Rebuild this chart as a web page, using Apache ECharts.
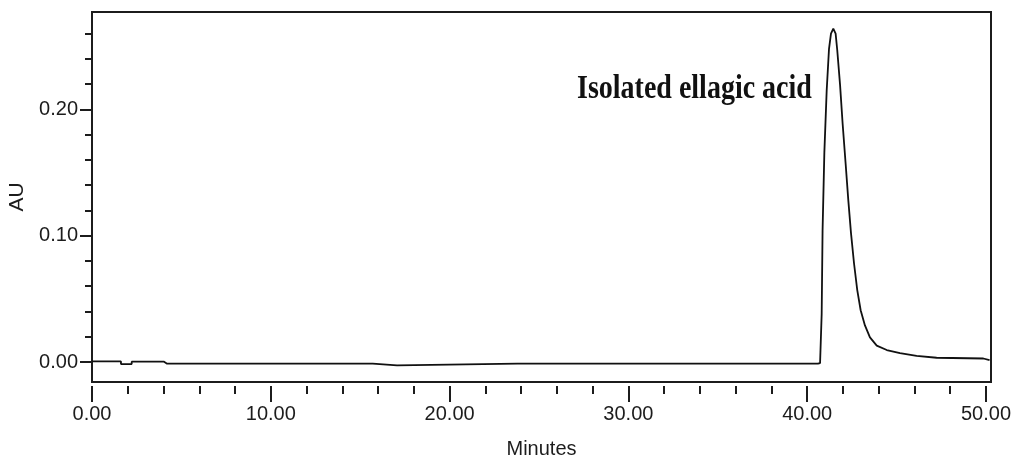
<!DOCTYPE html>
<html>
<head>
<meta charset="utf-8">
<script src="https://cdn.jsdelivr.net/npm/echarts@6/dist/echarts.min.js"></script>
<style>
html,body{margin:0;padding:0;background:#fff;}
#chart{width:1014px;height:461px;}
</style>
</head>
<body>
<div id="chart"></div>
<script>
// Retention time (minutes)
var times = [0, 1.62, 1.62, 2.22, 2.22, 4.03, 4.2, 9.2, 9.23, 9.3, 15.70, 15.70, 17.06, 17.06, 23.8, 23.83, 23.9, 40.60,
  40.72, 40.81, 40.86, 40.96, 41.09, 41.22, 41.33, 41.46, 41.59, 41.68, 41.84, 41.98, 42.15, 42.30, 42.45, 42.62,
  42.80, 42.99, 43.23, 43.51, 43.89, 44.45, 45.19, 46.12, 47.24, 49.85, 50.2];
// Absorbance (AU)
var absorbance = [0.0005, 0.0005, -0.0016, -0.0016, 0.0003, 0.0003, -0.0013, -0.0013, 0.0000, -0.0013, -0.0013, -0.0026, -0.0026, -0.0013, -0.0013, 0.0000, -0.0013, -0.0013,
  -0.0008, 0.038, 0.104, 0.166, 0.215, 0.248, 0.260, 0.264, 0.260, 0.247, 0.219, 0.189, 0.157, 0.128, 0.102, 0.078,
  0.057, 0.041, 0.029, 0.0195, 0.0130, 0.0095, 0.0070, 0.0048, 0.0034, 0.0028, 0.0015];

var xMajorTicks = [0, 10, 20, 30, 40, 50];
var xMinorTicks = [2, 4, 6, 8, 12, 14, 16, 18, 22, 24, 26, 28, 32, 34, 36, 38, 42, 44, 46, 48];
var yMajorTicks = [0, 0.10, 0.20];
var yMinorTicks = [0.02, 0.04, 0.06, 0.08, 0.12, 0.14, 0.16, 0.18, 0.22, 0.24, 0.26];
var xRange = [0, 50.28];
var yRange = [-0.0158, 0.2771];
var peakLabel = 'Isolated ellagic acid';

var FONT = "'Liberation Sans', Arial, sans-serif";
var INK = '#1c1c1c';

var chart = echarts.init(document.getElementById('chart'), null, {renderer: 'canvas'});

var data = times.map(function (t, i) { return [t, absorbance[i]]; });

function xAxisDef(ticks, len, showLabels, name) {
  return {
    type: 'value', min: xRange[0], max: xRange[1], position: 'bottom', offset: 4,
    name: name || '', nameLocation: 'middle', nameGap: 53,
    nameTextStyle: {fontFamily: FONT, fontSize: 20, color: INK},
    axisLine: {show: false, onZero: false},
    axisTick: {show: true, customValues: ticks, length: len, lineStyle: {color: INK, width: 2}},
    axisLabel: {show: showLabels, customValues: ticks, margin: 18, fontFamily: FONT, fontSize: 20, color: INK,
      formatter: function (v) { return v.toFixed(2); }},
    splitLine: {show: false}
  };
}
function yAxisDef(ticks, len, showLabels, name) {
  return {
    type: 'value', min: yRange[0], max: yRange[1], position: 'left',
    name: name || '', nameLocation: 'middle', nameGap: 55,
    nameTextStyle: {fontFamily: FONT, fontSize: 21, color: INK},
    axisLine: {show: false, onZero: false},
    axisTick: {show: true, customValues: ticks, length: len, lineStyle: {color: INK, width: 2}},
    axisLabel: {show: showLabels, customValues: ticks, margin: 14, fontFamily: FONT, fontSize: 20, color: INK,
      formatter: function (v) { return v.toFixed(2); }},
    splitLine: {show: false}
  };
}

chart.setOption({
  animation: false,
  backgroundColor: '#ffffff',
  grid: {left: 92, right: 23, top: 12, bottom: 79, show: true, borderColor: INK, borderWidth: 2,
    backgroundColor: 'transparent', containLabel: false, outerBoundsMode: 'none'},
  xAxis: [xAxisDef(xMajorTicks, 16, true, 'Minutes'), xAxisDef(xMinorTicks, 8, false)],
  yAxis: [yAxisDef(yMajorTicks, 12, true, 'AU'), yAxisDef(yMinorTicks, 7, false)],
  series: [{
    type: 'line', xAxisIndex: 0, yAxisIndex: 0, data: data, showSymbol: false, symbol: 'none',
    lineStyle: {color: '#111', width: 1.8}, silent: true
  }],
  graphic: [{
    type: 'text', x: 577, y: 73, scaleX: 1, scaleY: 1.17,
    style: {text: peakLabel, font: "bold 28px 'Liberation Serif', 'Times New Roman', serif",
      verticalAlign: 'top', align: 'left', fill: '#111'}
  }]
});
</script>
</body>
</html>
